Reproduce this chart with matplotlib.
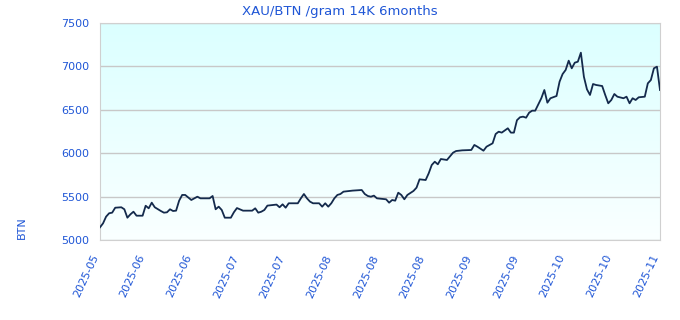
import numpy as np
import matplotlib
matplotlib.use('Agg')
import matplotlib.pyplot as plt
import matplotlib.transforms as mtransforms

# price of 14K gold per gram in BTN (day offset, value)
days = [0, 1, 2, 3, 4, 5, 7, 8, 9, 10, 11, 12, 14, 15, 16, 17, 18, 20, 21, 22,
        23, 24, 25, 26, 27, 28, 30, 31, 32, 33, 36, 37, 38, 39, 40, 41, 43, 44,
        45, 47, 50, 51, 52, 53, 54, 55, 58, 59, 60, 61, 62, 65, 66, 67, 68, 69,
        70, 72, 73, 74, 75, 76, 77, 78, 79, 80, 83, 86, 87, 88, 89, 90, 91, 94,
        95, 96, 97, 98, 99, 100, 101, 103, 104, 105, 107, 108, 109, 110, 111,
        112, 114, 116, 117, 119, 122, 123, 124, 126, 127, 129, 130, 131, 132,
        134, 135, 136, 137, 138, 139, 140, 141, 142, 143, 145, 146, 147, 148,
        150, 151, 152, 153, 154, 155, 156, 157, 158, 159, 160, 161, 162, 163,
        165, 166, 167, 168, 169, 170, 172, 173, 174, 175, 176, 177, 179, 180,
        181, 182, 183, 184]
prices = [5146, 5192, 5269, 5308, 5315, 5372, 5377, 5354, 5257, 5296, 5326, 5280,
          5280, 5395, 5365, 5430, 5377, 5334, 5315, 5319, 5354, 5334, 5338, 5453,
          5519, 5519, 5461, 5480, 5499, 5480, 5480, 5507, 5354, 5384, 5346, 5257,
          5257, 5320, 5368, 5338, 5338, 5365, 5315, 5326, 5346, 5396, 5408, 5377,
          5411, 5372, 5423, 5423, 5480, 5530, 5480, 5442, 5423, 5423, 5384, 5423,
          5384, 5423, 5480, 5519, 5530, 5557, 5569, 5576, 5530, 5507, 5499, 5511,
          5480, 5469, 5430, 5461, 5453, 5545, 5519, 5469, 5519, 5565, 5603, 5699,
          5691, 5768, 5864, 5902, 5872, 5933, 5922, 6006, 6025, 6033, 6037, 6095,
          6075, 6029, 6075, 6114, 6221, 6248, 6237, 6287, 6237, 6237, 6380, 6414,
          6421, 6409, 6467, 6490, 6490, 6633, 6728, 6582, 6633, 6659, 6824, 6912,
          6959, 7066, 6978, 7043, 7054, 7158, 6880, 6736, 6671, 6797, 6786, 6774,
          6671, 6575, 6613, 6682, 6651, 6633, 6651, 6575, 6633, 6613, 6644, 6651,
          6805, 6843, 6978, 6997, 6728]

tick_labels = ['2025-05', '2025-06', '2025-06', '2025-07', '2025-07', '2025-08',
               '2025-08', '2025-08', '2025-09', '2025-09', '2025-10', '2025-10',
               '2025-11']
y_ticks = [5000, 5500, 6000, 6500, 7000, 7500]

blue = '#1f56d6'

fig = plt.figure(figsize=(6.8, 3.2), dpi=100)
ax = fig.add_axes([100/680, 80/320, 560/680, 217/320])

# light cyan to white gradient behind the line
grad = np.linspace(1, 0, 256).reshape(-1, 1)
top = np.array([0.86, 1.0, 1.0])
bot = np.array([0.98, 1.0, 1.0])
img = bot + (top - bot) * grad[..., None]
ax.imshow(img, extent=[0, 1, 0, 1], transform=ax.transAxes, aspect='auto', zorder=0)

ax.plot(days, prices, color='#142a4c', lw=1.3, zorder=3)

ax.set_xlim(0, 184)
ax.set_ylim(5000, 7500)
ax.set_yticks(y_ticks)
ax.set_yticklabels([str(v) for v in y_ticks])
ax.set_xticks(np.linspace(0, 184, len(tick_labels)))
ax.set_xticklabels(tick_labels, rotation=65, ha='right', rotation_mode='anchor')
ax.tick_params(length=0, labelsize=8, labelcolor=blue, pad=8)
ax.tick_params(axis='y', pad=8)
# nudge rotated labels left like the original
shift = mtransforms.ScaledTranslation(-9/100, -2/100, fig.dpi_scale_trans)
for lab in ax.get_xticklabels():
    lab.set_transform(lab.get_transform() + shift)
ax.grid(axis='y', color='#c8c8c8', lw=1, zorder=1)
for s in ax.spines.values():
    s.set_color('#d0d0d0')

ax.set_ylabel('BTN', color=blue, fontsize=8)
ax.yaxis.set_label_coords(-0.13, 0.055)

fig.text(0.5, 1 - 11/320, 'XAU/BTN /gram 14K 6months', color=blue, fontsize=9.5,
         ha='center', va='center')

fig.savefig('out.png', dpi=100)
